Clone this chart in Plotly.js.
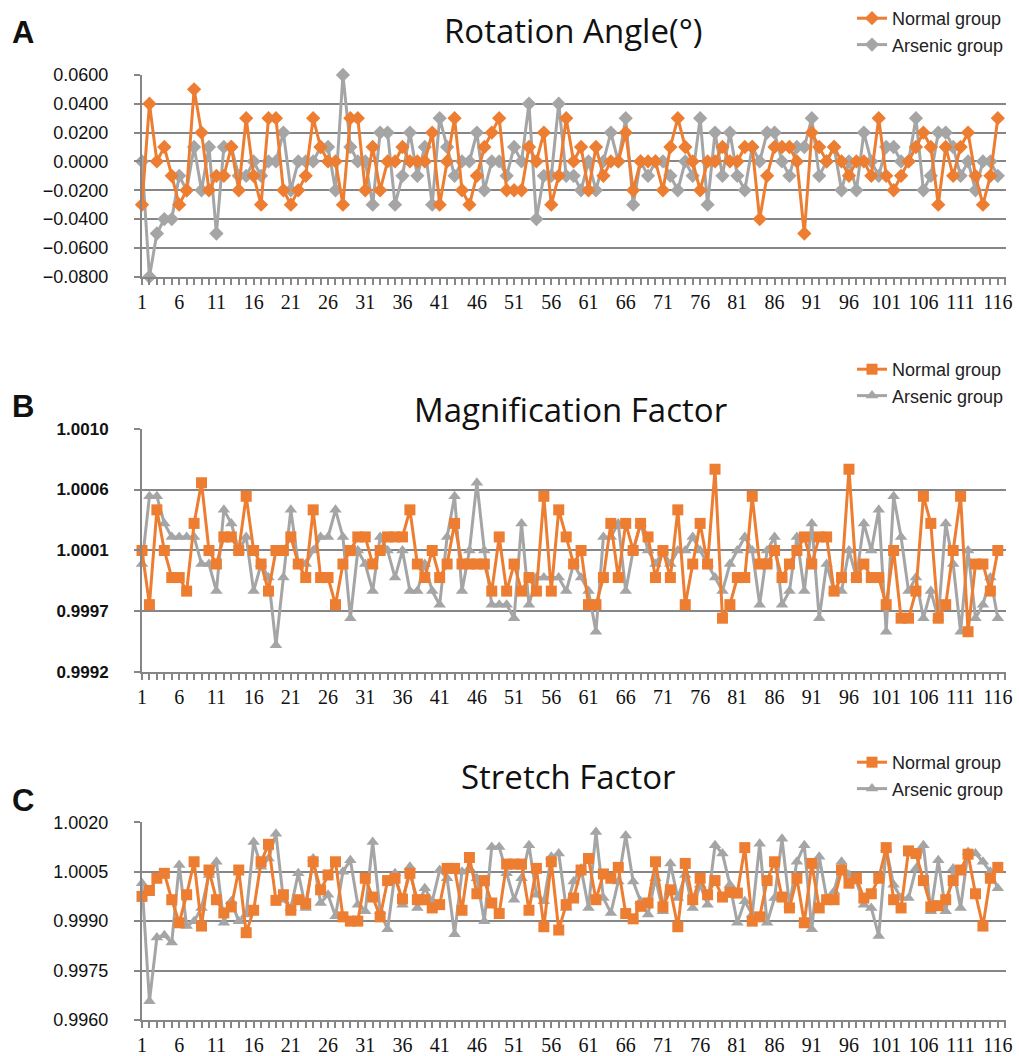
<!DOCTYPE html>
<html><head><meta charset="utf-8">
<script src="https://cdn.plot.ly/plotly-3.0.1.min.js"></script>
<style>html,body{margin:0;padding:0;background:#fff}#chart{width:1019px;height:1056px}</style>
</head><body><div id="chart"></div>
<script>
// ---- data ----
const categories = Array.from({length:116}, (_, i) => i + 1);
const xTickVals = [1,6,11,16,21,26,31,36,41,46,51,56,61,66,71,76,81,86,91,96,101,106,111,116];
const xTickText = ['1','6','11','16','21','26','31','36','41','46','51','56','61','66','71','76','81','86','91','96','101','106','111','116'];

const rotNormal = [-0.03,0.04,0,0.01,-0.01,-0.03,-0.02,0.05,0.02,-0.02,-0.01,-0.01,0.01,-0.02,0.03,-0.01,-0.03,0.03,0.03,-0.02,
 -0.03,-0.02,-0.01,0.03,0.01,0,0,-0.03,0.03,0.03,-0.02,0.01,-0.02,0,0,0.01,0,0,0,0.02,
 -0.03,0,0.03,-0.02,-0.03,-0.01,0.01,0.02,0.03,-0.02,-0.02,-0.02,0.01,0,0.02,-0.03,-0.01,0.03,0,0.01,
 -0.02,0.01,-0.01,0,0,0.02,-0.02,0,0,0,-0.02,0.01,0.03,0.01,0,-0.02,0,0,0.01,0,
 0,0.01,0.01,-0.04,-0.01,0.01,0.01,0.01,0,-0.05,0.02,0.01,0,0.01,0,-0.01,0,0,-0.01,0.03,
 -0.01,-0.02,-0.01,0,0.01,0.02,0.01,-0.03,0.01,-0.01,0.01,0.02,-0.01,-0.03,-0.01,0.03];
const rotArsenic = [0,-0.08,-0.05,-0.04,-0.04,-0.01,-0.02,0.01,-0.02,0.01,-0.05,0.01,0.01,-0.01,-0.01,0,-0.01,0,0,0.02,
 -0.02,0,0,0,0.01,0.01,-0.02,0.06,0.01,0,0,-0.03,0.02,0.02,-0.03,-0.01,0.02,-0.01,0.01,-0.03,
 0.03,0.01,-0.01,0,0,0.02,-0.02,0,0,-0.01,0.01,0,0.04,-0.04,-0.01,-0.01,0.04,-0.01,-0.01,-0.02,
 0,-0.02,0,0.02,0,0.03,-0.03,0,-0.01,0,0,-0.01,-0.02,0,-0.01,0.03,-0.03,0.02,-0.01,0.02,
 -0.01,-0.02,0.01,0,0.02,0.02,0,-0.01,0.01,0.01,0.03,-0.01,0,0.01,-0.02,0,-0.02,0.02,0,-0.01,
 0.01,0.01,0,0,0.03,-0.02,-0.01,0.02,0.02,0.01,-0.01,0,-0.02,0,0,-0.01];

const magNormal = [1.0001,0.9997,1.0004,1.0001,0.9999,0.9999,0.9998,1.0003,1.0006,1.0001,1.0000,1.0002,1.0002,1.0001,1.0005,1.0001,1.0000,0.9998,1.0001,1.0001,
 1.0002,1.0000,0.9999,1.0004,0.9999,0.9999,0.9997,1.0000,1.0001,1.0002,1.0002,1.0000,1.0001,1.0002,1.0002,1.0002,1.0004,1.0000,0.9999,1.0001,
 0.9999,1.0000,1.0003,1.0000,1.0000,1.0000,1.0000,0.9998,1.0002,0.9998,1.0000,0.9998,0.9999,0.9998,1.0005,0.9998,1.0004,1.0002,1.0000,1.0001,
 0.9997,0.9997,0.9999,1.0003,0.9999,1.0003,1.0001,1.0003,1.0002,0.9999,1.0001,0.9999,1.0004,0.9997,1.0000,1.0003,1.0000,1.0007,0.9996,0.9997,
 0.9999,0.9999,1.0005,1.0000,1.0000,1.0001,0.9999,1.0000,1.0001,1.0002,1.0000,1.0002,1.0002,0.9998,0.9999,1.0007,0.9999,1.0000,0.9999,0.9999,
 0.9997,1.0001,0.9996,0.9996,0.9998,1.0005,1.0003,0.9996,0.9997,1.0001,1.0005,0.9995,1.0000,1.0000,0.9998,1.0001];
const magArsenic = [1.0000,1.0005,1.0005,1.0003,1.0002,1.0002,1.0002,1.0002,1.0000,1.0000,0.9998,1.0004,1.0003,1.0001,1.0002,0.9998,1.0000,0.9999,0.9994,0.9999,
 1.0004,1.0000,1.0000,1.0001,1.0002,1.0002,1.0004,1.0002,0.9996,1.0001,1.0000,0.9998,1.0002,1.0001,0.9999,1.0001,0.9998,0.9998,1.0000,0.9998,
 0.9997,1.0002,1.0005,0.9998,1.0001,1.0006,1.0001,0.9997,0.9997,0.9997,0.9996,1.0003,0.9997,0.9999,0.9999,0.9999,0.9999,0.9998,1.0000,0.9999,
 0.9998,0.9995,1.0002,1.0002,1.0003,0.9998,1.0001,1.0003,1.0001,1.0000,1.0001,1.0000,1.0001,1.0001,1.0002,1.0001,1.0000,0.9999,0.9998,1.0000,
 1.0001,1.0002,1.0001,0.9997,1.0001,1.0002,0.9997,0.9998,1.0002,0.9998,1.0003,0.9996,1.0000,0.9998,0.9998,1.0001,0.9999,1.0003,1.0001,1.0004,
 0.9995,1.0005,1.0002,0.9998,0.9999,0.9996,0.9998,0.9996,1.0003,1.0000,0.9995,1.0001,0.9996,0.9997,0.9999,0.9996];

const strNormal = [0.99975,0.99993,1.0003,1.00045,0.99965,0.99895,0.9998,1.0008,0.99885,1.00055,0.99965,0.99925,0.99943,1.00055,0.99865,0.99933,1.0008,1.00133,0.99963,0.9998,
 0.99933,0.99965,0.99953,1.0008,0.99995,1.0004,1.0008,0.99913,0.999,0.999,1.0003,0.99973,0.99913,1.00023,1.0003,0.99967,1.00045,0.99965,0.99965,0.9994,
 0.9995,1.0006,1.0006,0.99933,1.00093,0.99983,1.00023,0.99955,0.99923,1.00073,1.00073,1.00073,0.99933,1.0006,0.99883,1.0008,0.99873,0.9995,0.9997,1.00055,
 1.0009,0.99965,1.00043,1.0003,1.00063,0.99923,0.99907,0.99945,0.99955,1.0008,0.99943,0.99995,0.99883,1.00075,0.99965,1.0003,0.9998,1.00023,0.99973,0.99987,
 0.99985,1.00123,0.999,0.99913,1.00023,1.0008,0.99973,0.9994,1.0003,0.99895,1.00075,0.9994,0.99965,0.99965,1.00055,1.00015,1.0003,0.9997,0.99983,1.0003,
 1.00123,0.99965,0.9994,1.00113,1.00105,1.00023,0.99943,0.99947,0.99965,1.00023,1.00055,1.00103,0.99983,0.99885,1.0003,1.00063];
const strArsenic = [1.00015,0.99657,0.9985,0.99857,0.99835,1.0007,0.99885,0.999,0.9994,1.0004,1.0008,0.99895,0.9996,0.999,0.9992,1.0014,1.00065,1.0009,1.00165,0.99965,
 0.9994,1.00045,0.9994,1.0009,0.99955,0.9998,0.99915,1.0005,1.00085,0.9995,0.9993,1.0014,0.9993,0.99875,1.00045,0.9995,1.00065,0.9994,1.0000,0.9996,
 1.00055,1.0003,0.9986,1.0005,1.0006,1.0003,0.999,1.00125,1.00125,1.00045,0.99965,1.0003,1.0013,0.9998,0.9996,1.00095,1.00105,0.9994,1.0002,1.0006,
 0.9994,1.0017,0.9997,0.99925,1.0002,1.0016,1.0002,0.9996,0.9992,1.0003,0.9993,1.00075,0.9997,1.0004,0.9994,1.0001,0.9995,1.0013,1.00105,1.0001,
 0.99895,0.9996,0.9992,1.00135,0.99895,0.9997,1.0015,0.9995,1.0008,1.0013,0.99875,1.00095,0.9997,0.9999,1.0008,1.0004,1.0002,0.9995,0.9994,0.99855,
 1.0012,1.0001,0.9997,0.9997,1.0006,1.0013,0.9993,1.00085,0.9993,1.0006,0.9994,1.0011,1.00105,1.0008,1.0005,1.0000];

// magnification tick labels as printed (Excel rounds the 0.00045 steps)
const magTickRaw = ['0.99920','0.99965','1.00010','1.00055','1.00100'];
const magTickText = ['0.9992','0.9997','1.0001','1.0006','1.0010'];

// ---- styles ----
const W = 1019, H = 1056;
const px = v => v / W, py = v => 1 - v / H;
const ORANGE = '#ED7D31', GRAY = '#A5A5A5', GRID = '#868686';
const x0 = px(142), x1 = px(1006);
const magAlias = {};
magTickRaw.forEach((r, i) => { magAlias[r] = magTickText[i]; });

function tr(y, name, color, sym, xa, ya, leg, size) {
  return {x: categories, y: y, name: name, type: 'scatter', mode: 'lines+markers',
    xaxis: xa, yaxis: ya, legend: leg, cliponaxis: false,
    line: {color: color, width: 3}, marker: {color: color, symbol: sym, size: size}};
}
const data = [
  tr(rotArsenic, 'Arsenic group', GRAY, 'diamond', 'x', 'y', 'legend', 11),
  tr(rotNormal, 'Normal group', ORANGE, 'diamond', 'x', 'y', 'legend', 11),
  tr(magArsenic, 'Arsenic group', GRAY, 'triangle-up', 'x2', 'y2', 'legend2', 11),
  tr(magNormal, 'Normal group', ORANGE, 'square', 'x2', 'y2', 'legend2', 11),
  tr(strArsenic, 'Arsenic group', GRAY, 'triangle-up', 'x3', 'y3', 'legend3', 11),
  tr(strNormal, 'Normal group', ORANGE, 'square', 'x3', 'y3', 'legend3', 11)
];

function xax(anchor) {
  return {domain: [x0, x1], anchor: anchor, range: [1, 117.1], showgrid: false, zeroline: false,
    tickmode: 'array', tickvals: xTickVals, ticktext: xTickText,
    ticks: 'outside', ticklen: 6, tickwidth: 2, tickcolor: GRID,
    minor: {dtick: 1, tick0: 1, ticks: 'outside', ticklen: 6, tickwidth: 2, tickcolor: GRID, showgrid: false},
    showline: true, linecolor: GRID, linewidth: 2,
    tickfont: {family: 'Liberation Serif', size: 20, color: '#111'}};
}
function yax(anchor, top, bot, extra) {
  return Object.assign({domain: [py(bot), py(top)], anchor: anchor, zeroline: false,
    showgrid: true, gridcolor: GRID, gridwidth: 2, showline: true, linecolor: GRID, linewidth: 2,
    ticks: 'outside', ticklen: 6, tickwidth: 2, tickcolor: GRID, ticklabelstandoff: 22,
    tickfont: {family: 'Liberation Sans', size: 18, color: '#111'}}, extra);
}
function leg(top) {
  return {x: px(852), y: py(top), xanchor: 'left', yanchor: 'top', bgcolor: 'rgba(0,0,0,0)',
    traceorder: 'reversed', font: {family: 'Liberation Sans', size: 18, color: '#222'}, itemwidth: 30};
}
function ann(text, x, y, size, bold) {
  return {text: text, x: px(x), y: py(y), xref: 'paper', yref: 'paper', showarrow: false,
    xanchor: bold ? 'left' : 'center', yanchor: 'middle',
    font: {family: bold ? 'Liberation Sans' : 'Open Sans', size: size, color: '#111', weight: bold ? 'bold' : 'normal'}};
}

const layout = {
  width: W, height: H, margin: {l: 0, r: 0, t: 0, b: 0},
  paper_bgcolor: '#fff', plot_bgcolor: '#fff', showlegend: true,
  xaxis: xax('y'), xaxis2: xax('y2'), xaxis3: xax('y3'),
  yaxis: yax('x', 74, 276, {range: [-0.08, 0.06], dtick: 0.02, tick0: 0, tickformat: '.4f'}),
  yaxis2: yax('x2', 428, 672, {range: [0.9992, 1.0010], tick0: 0.9992, dtick: 0.00045, tickformat: '.5f', labelalias: magAlias,
    tickfont: {family: 'Liberation Sans', size: 17, color: '#111', weight: 'bold'}}),
  yaxis3: yax('x3', 822, 1020, {range: [0.9960, 1.0020], dtick: 0.0015, tick0: 0.996, tickformat: '.4f'}),
  legend: leg(-1), legend2: leg(351), legend3: leg(744),
  annotations: [
    ann('A', 10, 32, 31, true), ann('Rotation Angle(°)', 573, 30, 33, false),
    ann('B', 10, 406, 31, true), ann('Magnification Factor', 570, 409, 33, false),
    ann('C', 10, 800, 31, true), ann('Stretch Factor', 568, 776, 33, false)
  ]
};
Plotly.newPlot('chart', data, layout, {staticPlot: true});
</script></body></html>
